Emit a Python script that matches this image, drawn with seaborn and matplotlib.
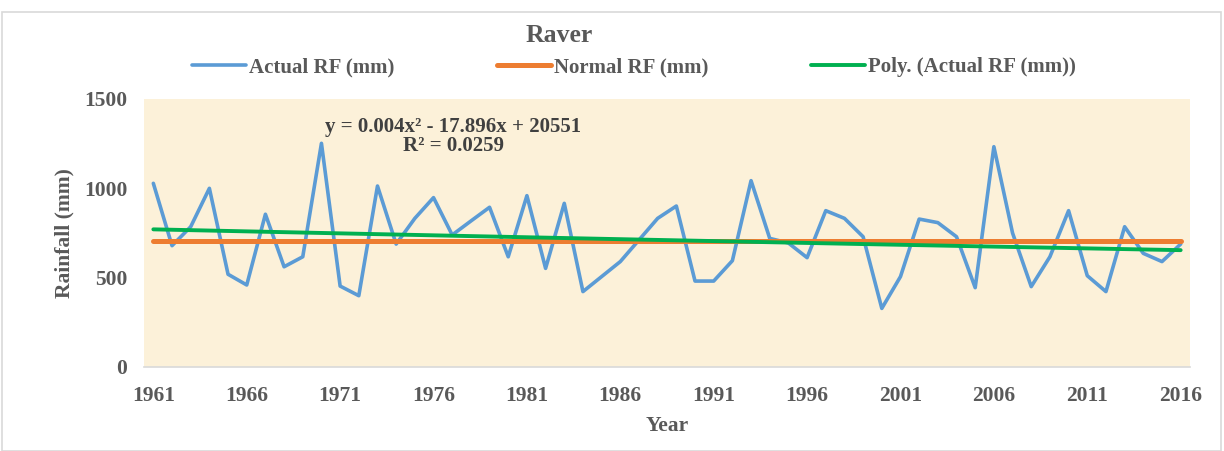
import matplotlib
matplotlib.use("Agg")
import matplotlib.pyplot as plt
import matplotlib.patches as mpatches
import seaborn as sns
import numpy as np
import pandas as pd

years = list(range(1961, 2017))
actual_rf = [1028, 679, 785, 1000, 519, 459, 855, 561, 617, 1252,
             453, 399, 1013, 688, 832, 948, 739, 817, 894, 617,
             959, 552, 916, 422, 506, 590, 711, 832, 901, 481,
             481, 595, 1043, 720, 694, 612, 875, 832, 729, 328,
             506, 828, 808, 729, 444, 1233, 750, 450, 617, 875,
             511, 422, 785, 636, 590, 688]
normal_value = 707
normal_rf = [normal_value] * len(years)
xticks = list(range(1961, 2017, 5))
yticks = [0, 500, 1000, 1500]

title = "Raver"
eq_text = "y = 0.004x² - 17.896x + 20551"
r2_text = "R² = 0.0259"

df = pd.DataFrame({"Year": years, "Actual": actual_rf, "Normal": normal_rf})

sns.set_theme(style="white")
plt.rcParams["font.family"] = ["Liberation Serif", "DejaVu Serif"]
plt.rcParams["font.weight"] = "bold"

grey = "#595959"
blue = "#5B9BD5"
orange = "#ED7D31"
green = "#00B050"

fig = plt.figure(figsize=(12.24, 4.51), dpi=100)
ax = fig.add_axes([144/1224, 1 - 367/451, (1190-144)/1224, (367-99)/451])
ax.set_facecolor("#FCF1D9")

sns.lineplot(data=df, x="Year", y="Actual", ax=ax, color=blue, lw=2.6,
             label="Actual RF (mm)", zorder=3)
sns.lineplot(data=df, x="Year", y="Normal", ax=ax, color=orange, lw=3.6,
             label="Normal RF (mm)", zorder=4, solid_capstyle="round")
sns.regplot(data=df, x="Year", y="Actual", ax=ax, order=2, ci=None,
            scatter=False, truncate=True, label="Poly. (Actual RF (mm))",
            line_kws=dict(color=green, lw=2.8, zorder=5))

ax.set_xlim(1960.5, 2016.5)
ax.set_ylim(0, 1500)
ax.set_xticks(xticks)
ax.set_yticks(yticks)
ax.tick_params(axis="both", length=0, labelsize=15.5, colors=grey)
ax.tick_params(axis="x", pad=14)
ax.tick_params(axis="y", pad=12)
for lab in ax.get_xticklabels() + ax.get_yticklabels():
    lab.set_fontweight("bold")
for s in ["top", "right", "left"]:
    ax.spines[s].set_visible(False)
ax.spines["bottom"].set_color("#D9D9D9")
ax.spines["bottom"].set_linewidth(1.2)

ax.set_xlabel("Year", fontsize=15.5, fontweight="bold", color=grey, labelpad=7)
ax.set_ylabel("Rainfall (mm)", fontsize=15.5, fontweight="bold", color=grey, labelpad=7)

ax.text(1977.05, 1345, eq_text, ha="center", va="center", fontsize=15,
        fontweight="bold", color="#404040")
ax.text(1977.05, 1235, r2_text, ha="center", va="center", fontsize=15,
        fontweight="bold", color="#404040")

fig.text(559/1224, 1 - 36/451, title, ha="center", va="center", fontsize=18.5,
         fontweight="bold", color=grey)

handles, labels = ax.get_legend_handles_labels()
leg = fig.legend(handles, labels, loc="center", bbox_to_anchor=(634/1224, 1 - 67/451),
                 ncol=3, frameon=False, handlelength=2.6,
                 handletextpad=0.15, columnspacing=4.9,
                 prop=dict(weight="bold", size=15))
for t in leg.get_texts():
    t.set_color(grey)
if ax.get_legend():
    ax.get_legend().remove()

fig.patches.append(mpatches.Rectangle((2/1224, 0), 1219/1224, 1 - 12/451,
                                      transform=fig.transFigure, fill=False,
                                      edgecolor="#D9D9D9", lw=1.2))

fig.savefig("out.png", dpi=100)
